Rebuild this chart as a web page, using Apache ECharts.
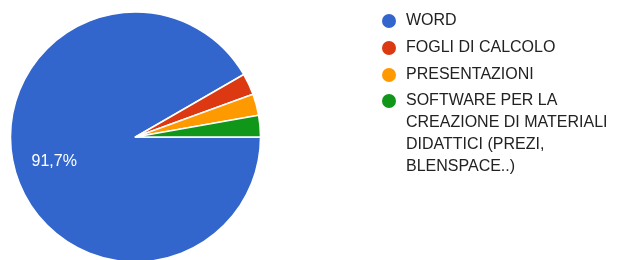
<!DOCTYPE html>
<html>
<head>
<meta charset="utf-8">
<script src="https://cdn.jsdelivr.net/npm/echarts@6/dist/echarts.min.js"></script>
<style>
  html, body { margin: 0; padding: 0; background: #fff; }
  #chart { width: 619px; height: 260px; }
</style>
</head>
<body>
<div id="chart"></div>
<script>
// categorie e risposte
const categories = [
  "WORD",
  "FOGLI DI CALCOLO",
  "PRESENTAZIONI",
  "SOFTWARE PER LA CREAZIONE DI MATERIALI DIDATTICI (PREZI, BLENSPACE..)"
];
const answers = [33, 1, 1, 1];
const colors = ["#3366cc", "#dc3912", "#ff9900", "#109618"];
// testo della legenda a capo come nell'originale
const legendLines = {
  "SOFTWARE PER LA CREAZIONE DI MATERIALI DIDATTICI (PREZI, BLENSPACE..)":
    "\n\n\nSOFTWARE PER LA\nCREAZIONE DI MATERIALI\nDIDATTICI (PREZI,\nBLENSPACE..)"
};

const font = "Arial, 'Liberation Sans', sans-serif";
const legendText = {
  fontSize: 16,
  fontFamily: font,
  color: "#222",
  lineHeight: 22,
  padding: [0, 0, 0, 5]
};

const myChart = echarts.init(document.getElementById("chart"));
myChart.setOption({
  animation: false,
  color: colors,
  legend: [
    {
      orient: "vertical",
      left: 382,
      top: 10,
      padding: 0,
      icon: "circle",
      itemWidth: 14,
      itemHeight: 14,
      itemGap: 5,
      selectedMode: false,
      itemStyle: { borderWidth: 0 },
      data: categories.slice(0, 3),
      textStyle: legendText
    },
    {
      orient: "vertical",
      left: 382,
      top: 24,
      padding: 0,
      icon: "circle",
      itemWidth: 14,
      itemHeight: 14,
      selectedMode: false,
      itemStyle: { borderWidth: 0 },
      data: categories.slice(3),
      formatter: function (name) {
        return legendLines[name] || name;
      },
      textStyle: legendText
    }
  ],
  series: [
    {
      type: "pie",
      center: [135.5, 137],
      radius: 125,
      startAngle: 0,
      clockwise: true,
      avoidLabelOverlap: false,
      itemStyle: { borderColor: "#fff", borderWidth: 1.5 },
      label: {
        show: true,
        position: "inside",
        color: "#fff",
        fontSize: 16,
        lineHeight: 16,
        fontFamily: font,
        padding: [0, 36, 0, 0],
        formatter: function (p) {
          if (p.percent < 5) return "";
          // riga vuota sopra per abbassare l'etichetta
          return "\n" + p.percent.toFixed(1).replace(".", ",") + "%";
        }
      },
      labelLine: { show: false },
      emphasis: { disabled: true },
      data: categories.map((c, i) => ({ name: c, value: answers[i] }))
    }
  ]
});
window.addEventListener("resize", () => {
  myChart.resize();
});
</script>
</body>
</html>
